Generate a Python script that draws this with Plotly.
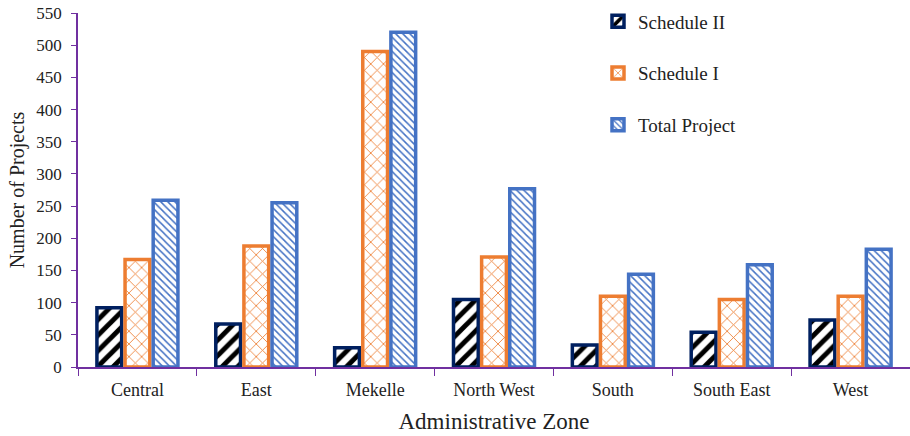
import plotly.graph_objects as go

zones = ["Central", "East", "Mekelle", "North West", "South", "South East", "West"]
schedule_ii = [92, 67, 30, 105, 34, 54, 73]
schedule_i = [167, 188, 490, 171, 110, 105, 110]
total_project = [259, 255, 520, 277, 144, 159, 183]

FONT = "Liberation Serif"
AXIS_COLOR = "#7030A0"
TEXT = "#222222"

fig = go.Figure()
fig.add_trace(go.Bar(
    name="Schedule II", x=zones, y=schedule_ii, legendgroup="a",
    marker=dict(color="white", line=dict(color="#002060", width=3.5),
                pattern=dict(shape="/", fgcolor="black", bgcolor="white", size=11,
                             solidity=0.45, fgopacity=1)),
))
fig.add_trace(go.Bar(
    name="Schedule I", x=zones, y=schedule_i, legendgroup="b",
    marker=dict(color="white", line=dict(color="#ED7D31", width=3.5),
                pattern=dict(shape="x", fgcolor="#ED7D31", bgcolor="white", size=9,
                             solidity=0.18, fgopacity=1)),
))
fig.add_trace(go.Bar(
    name="Total Project", x=zones, y=total_project, legendgroup="c",
    marker=dict(color="white", line=dict(color="#4472C4", width=3.5),
                pattern=dict(shape="\\", fgcolor="#4472C4", bgcolor="white", size=5,
                             solidity=0.3, fgopacity=1)),
))

fig.update_layout(
    width=910, height=436,
    margin=dict(l=78, r=0, t=13, b=69),
    paper_bgcolor="white", plot_bgcolor="white",
    font=dict(family=FONT, size=16, color=TEXT),
    barmode="group", bargap=0.29, bargroupgap=0.12,
    showlegend=True,
    legend=dict(x=0.625, y=1.03, xanchor="left", yanchor="top",
                font=dict(family=FONT, size=19, color=TEXT),
                tracegroupgap=24, itemwidth=30, bgcolor="rgba(0,0,0,0)"),
    xaxis=dict(
        showline=True, linecolor=AXIS_COLOR, linewidth=1.5,
        ticks="outside", tickson="boundaries", ticklen=7, tickcolor=AXIS_COLOR,
        ticklabelstandoff=6,
        tickfont=dict(family=FONT, size=18, color=TEXT),
        title=dict(text="Administrative Zone", font=dict(family=FONT, size=23, color=TEXT), standoff=14),
        showgrid=False,
    ),
    yaxis=dict(
        range=[0, 550], dtick=50, showline=True, linecolor=AXIS_COLOR, linewidth=1.5,
        ticks="outside", ticklen=5, tickcolor=AXIS_COLOR,
        ticklabelstandoff=6,
        tickfont=dict(family=FONT, size=17, color=TEXT),
        title=dict(text="Number of Projects", font=dict(family=FONT, size=20, color=TEXT), standoff=6),
        showgrid=False, zeroline=False,
    ),
)

fig.write_html("out.html")
